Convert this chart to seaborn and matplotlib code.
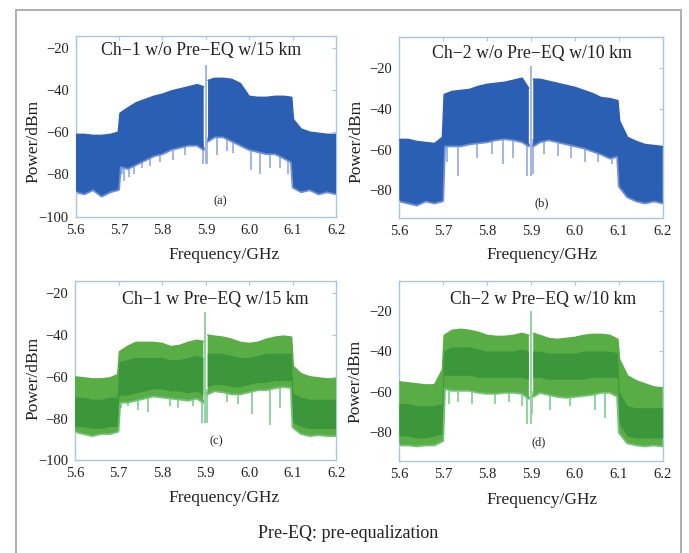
import numpy as np
import pandas as pd
import matplotlib
matplotlib.use("Agg")
import matplotlib.pyplot as plt
import seaborn as sns
from matplotlib.patches import Rectangle

# ---------------- data ----------------
F = [5.600, 5.620, 5.640, 5.660, 5.680, 5.698, 5.702, 5.720, 5.740, 5.760,
     5.780, 5.800, 5.820, 5.840, 5.860, 5.880, 5.895, 5.900, 5.905, 5.920,
     5.940, 5.960, 5.980, 6.000, 6.020, 6.040, 6.060, 6.080, 6.098, 6.102,
     6.120, 6.140, 6.160, 6.180, 6.200]
nan = float("nan")

TOP_A = [-61, -61, -61.5, -61.5, -61, -60, -51, -48.5, -46, -44.5, -43, -42, -40.5, -39.5, -38.5,
         -37.5, -38.5, nan, -35.5, -34.5, -34.5, -35, -37, -43, -43.5, -43.5, -43, -43, -43.5,
         -54, -58.5, -60, -60.5, -61, -61]
BOT_A = [-88, -89, -87, -90, -88, -87, -76, -77, -75, -73, -71, -70, -68, -67, -66, -66, -68, nan,
         -64, -62, -62, -64, -66, -68, -69, -70, -70, -72, -74, -86, -88, -87, -89, -88, -89]
DIP_F_A = [5.706, 5.712, 5.722, 5.735, 5.752, 5.771, 5.794, 5.825, 5.852, 5.893, 5.902, 5.925,
           5.948, 5.963, 6.005, 6.025, 6.048, 6.070, 6.090]
DIP_DB_A = [-80, -83, -81, -80, -77, -76, -74, -73, -71, -75, -75, -71, -69, -70, -78, -80, -77, -77, -80]
SPIKE_A = (5.8995, -28, -75)

TOP_B = [-55, -55, -56, -56.5, -57, -54, -33, -31.5, -31, -30.5, -29, -28, -27.5, -27, -26, -25,
         -30, nan, -25.5, -25.5, -26.5, -27.5, -28.5, -29.5, -31, -32.5, -34.5, -35, -36, -46,
         -54, -56, -57.5, -58, -58.5]
BOT_B = [-85, -86, -87, -85, -86, -85, -58, -58, -58, -57, -56.5, -56, -55, -54.5, -55, -56, -58,
         nan, -58, -56, -55, -56, -57, -58, -59, -60.5, -62, -64, -63, -78, -83, -85, -86, -85, -86]
DIP_F_B = [5.708, 5.734, 5.776, 5.810, 5.837, 5.860, 5.891, 5.905, 5.930, 5.962, 5.990, 6.023,
           6.053, 6.084]
DIP_DB_B = [-66, -73, -64, -62, -67, -64, -73, -72, -62, -63, -64, -66, -66, -67]
SPIKE_B = (5.8995, -19, -73)

TOP_C = [-60, -60.5, -61, -61, -60.5, -59, -48, -45.5, -43.5, -43.5, -43.5, -44, -45.5, -45, -43.5,
         -42.5, -43, nan, -40, -40.5, -41, -42, -43.5, -44, -43.5, -42, -41, -40.5, -41, -55,
         -58.5, -60, -60.5, -61, -61]
BOT_C = [-86, -87, -88, -87, -87, -86, -72, -72, -71, -70, -69, -69.5, -70, -70.5, -71, -70, -72,
         nan, -68, -66.5, -67, -68, -68, -67, -66, -66, -65, -64.5, -65, -84, -87, -88, -87.5, -88, -88]
MID_TOP_C = [-70, -70, -71, -71, -70, -70, -53, -52, -51, -51, -51, -51, -52, -52, -51, -50, -51,
             nan, -49, -49, -49, -50, -51, -51, -50, -49, -49, -49, -49, -68, -70, -71, -71, -71, -71]
MID_BOT_C = [-84, -84, -85, -85, -84, -84, -69, -69, -68, -67, -66, -66, -67, -67, -68, -67, -69,
             nan, -65, -64, -64, -65, -65, -64, -63, -63, -62, -62, -62, -82, -84, -85, -85, -85, -85]
DIP_F_C = [5.706, 5.721, 5.745, 5.767, 5.818, 5.836, 5.871, 5.891, 5.903, 5.949, 5.975, 6.006,
           6.048, 6.071]
DIP_DB_C = [-75, -74, -76, -77, -74, -75, -74, -82, -82, -72, -73, -78, -83, -75]
SPIKE_C = (5.8985, -29, -82)

TOP_D = [-55, -55.5, -56, -56.5, -56.5, -49, -32, -29.5, -29, -29.5, -30.5, -32, -32.5, -32.5, -32,
         -31, -32, nan, -31, -32, -33.5, -34, -33.5, -33, -32, -31.5, -31.5, -32, -34, -44, -52,
         -54.5, -56, -57.5, -58]
BOT_D = [-86, -86, -86.5, -86, -86, -84, -58, -59, -59, -59, -60, -60.5, -60.5, -60, -60, -60.5,
         -63, nan, -62, -60, -61, -62, -62.5, -62, -61.5, -61, -60, -60, -62, -80, -85, -86, -86.5,
         -86, -86.5]
MID_TOP_D = [-66, -66, -67, -67, -67, -66, -40, -38, -38, -38, -39, -40, -40, -40, -40, -39, -40,
             nan, -40, -40, -41, -41, -41, -41, -40, -40, -40, -40, -41, -60, -67, -68, -68, -68, -68]
MID_BOT_D = [-82, -82, -83, -83, -82, -81, -52, -52, -52, -52, -53, -53, -53, -53, -53, -53, -54,
             nan, -53, -53, -54, -54, -54, -54, -54, -53, -53, -53, -53, -76, -82, -83, -83, -83, -83]
DIP_F_D = [5.712, 5.734, 5.765, 5.818, 5.850, 5.879, 5.890, 5.902, 5.943, 5.989, 6.046, 6.069]
DIP_DB_D = [-66, -65, -66, -66, -65, -67, -76, -71, -69, -67, -69, -73]
SPIKE_D = (5.8995, -20, -76)

TITLES = ["Ch\u22121 w/o Pre\u2212EQ w/15 km", "Ch\u22122 w/o Pre\u2212EQ w/10 km",
          "Ch\u22121 w Pre\u2212EQ w/15 km", "Ch\u22122 w Pre\u2212EQ w/10 km"]
LETTERS = ["(a)", "(b)", "(c)", "(d)"]
X_TICKS = [5.6, 5.7, 5.8, 5.9, 6.0, 6.1, 6.2]
Y_TICKS_AC = [-100, -80, -60, -40, -20]
Y_TICKS_BD = [-80, -60, -40, -20]
CAPTION = "Pre-EQ: pre-equalization"

# ---------------- style ----------------
sns.set_theme(style="white")
SERIF = ["Liberation Serif", "DejaVu Serif"]
plt.rcParams["font.family"] = SERIF
plt.rcParams["axes.unicode_minus"] = True
TXT = "#222222"
SPINE = "#a9c6dc"

BLUE = dict(body="#2b5fb4", light="#a3b6e2", fringe="#6f8fd2")
GREEN = dict(body="#58ad45", dark="#3c973a", light="#8fd3a2", fringe="#74c279")

fig = plt.figure(figsize=(6.89, 5.53), dpi=100)
fig.patch.set_facecolor("white")
fig.add_artist(Rectangle((16 / 689, -0.1), (681 - 16) / 689, 1.1 - 10 / 553,
                         transform=fig.transFigure, fill=False, ec="#a8a8a8", lw=1.3))

panels = [
    dict(rect=[0.1099, 0.6081, 0.3778, 0.3268], top=TOP_A, bot=BOT_A, mt=None, mb=None,
         df=DIP_F_A, dd=DIP_DB_A, sp=SPIKE_A, pal=BLUE, ylim=(-100, -14.5), yt=Y_TICKS_AC,
         tpos=(0.48, 0.919), lpos=(0.554, 0.083), xl=(0.569, -0.212), yl=(-0.164, 0.417)),
    dict(rect=[0.5796, 0.6052, 0.3823, 0.3273], top=TOP_B, bot=BOT_B, mt=None, mb=None,
         df=DIP_F_B, dd=DIP_DB_B, sp=SPIKE_B, pal=BLUE, ylim=(-93.7, -5), yt=Y_TICKS_BD,
         tpos=(0.503, 0.912), lpos=(0.54, 0.083), xl=(0.54, -0.203), yl=(-0.162, 0.425)),
    dict(rect=[0.1089, 0.1676, 0.3788, 0.3248], top=TOP_C, bot=BOT_C, mt=MID_TOP_C, mb=MID_BOT_C,
         df=DIP_F_C, dd=DIP_DB_C, sp=SPIKE_C, pal=GREEN, ylim=(-100, -14), yt=Y_TICKS_AC,
         tpos=(0.536, 0.898), lpos=(0.543, 0.104), xl=(0.569, -0.212), yl=(-0.16, 0.457)),
    dict(rect=[0.5796, 0.1669, 0.3823, 0.3255], top=TOP_D, bot=BOT_D, mt=MID_TOP_D, mb=MID_BOT_D,
         df=DIP_F_D, dd=DIP_DB_D, sp=SPIKE_D, pal=GREEN, ylim=(-94, -5), yt=Y_TICKS_BD,
         tpos=(0.547, 0.898), lpos=(0.528, 0.105), xl=(0.54, -0.218), yl=(-0.168, 0.439)),
]

for i, p in enumerate(panels):
    ax = fig.add_axes(p["rect"])
    pal = p["pal"]
    f = np.array(F)
    top = np.array(p["top"], dtype=float)
    bot = np.array(p["bot"], dtype=float)
    df = pd.DataFrame({"f": f, "top": top, "bot": bot,
                       "seg": np.where(f < 5.9, 0, 1)}).dropna()

    # dips (light vertical streaks below the body)
    valid = ~np.isnan(bot)
    start = np.interp(p["df"], f[valid], bot[valid]) + 3
    ax.vlines(p["df"], p["dd"], start, colors=pal["light"], lw=1.4, zorder=1)

    # lower fringe
    sns.lineplot(data=df, x="f", y="bot", units="seg", estimator=None, sort=False,
                 color=pal["fringe"], lw=2.6, ax=ax, zorder=2, legend=False)
    # body
    ax.fill_between(f, bot, top, color=pal["body"], lw=0, zorder=3)
    sns.lineplot(data=df, x="f", y="top", units="seg", estimator=None, sort=False,
                 color=pal["body"], lw=1.0, ax=ax, zorder=3, legend=False)
    if p["mt"] is not None:
        ax.fill_between(f, np.array(p["mb"], dtype=float), np.array(p["mt"], dtype=float),
                        color=pal["dark"], lw=0, zorder=4)
    # carrier spike at 5.9 GHz
    sf, st, sb = p["sp"]
    ax.vlines([sf], [sb], [st], colors=pal["light"], lw=1.4, zorder=5)

    ax.set_xlim(5.6, 6.2)
    ax.set_ylim(*p["ylim"])
    ax.set_xticks(X_TICKS)
    ax.set_xticklabels([f"{v:.1f}" for v in X_TICKS])
    ax.set_yticks(p["yt"])
    ax.set_yticklabels([f"\u2212{abs(v)}" for v in p["yt"]])
    ax.tick_params(direction="in", length=3, width=0.8, color=SPINE, top=True, right=True,
                   labelsize=10.5, labelcolor=TXT, pad=5)
    for s in ax.spines.values():
        s.set_color(SPINE)
        s.set_linewidth(1.0)
    ax.set_xlabel("Frequency/GHz", fontsize=12.5, color=TXT, va="center", ha="center")
    ax.set_ylabel("Power/dBm", fontsize=12.5, color=TXT, va="center", ha="center")
    ax.xaxis.set_label_coords(*p["xl"])
    ax.yaxis.set_label_coords(*p["yl"])
    ax.text(p["tpos"][0], p["tpos"][1], TITLES[i], transform=ax.transAxes, ha="center",
            va="center", fontsize=12.8, color=TXT, zorder=6)
    ax.text(p["lpos"][0], p["lpos"][1], LETTERS[i], transform=ax.transAxes, ha="center",
            va="center", fontsize=9, color=TXT, zorder=6)
    ax.set_facecolor("white")

fig.text(348 / 689, 1 - 533 / 553, CAPTION, ha="center", va="center", fontsize=13, color=TXT)

fig.savefig("out.png", dpi=100)
